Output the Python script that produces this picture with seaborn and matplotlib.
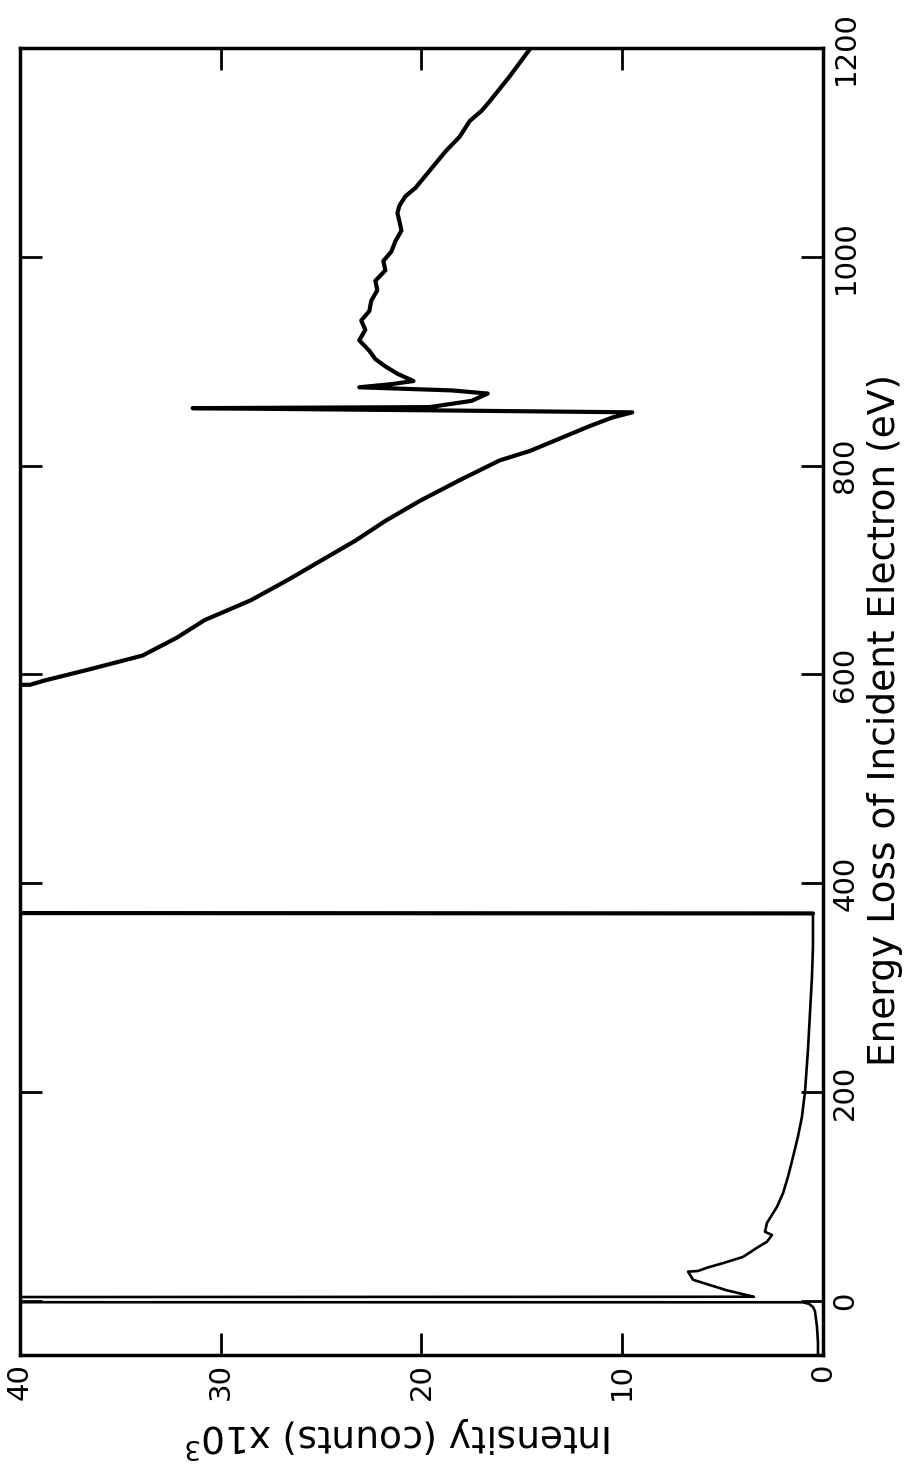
import numpy as np
import pandas as pd
import matplotlib
matplotlib.use("Agg")
import matplotlib.pyplot as plt
import seaborn as sns

# Energy loss (eV) and intensity (counts x10^3) in order of acquisition
energy_eV = [
    -52, -40, -25, -10, -6, -3, -1.5, -1, 1.5, 3.8,
    10, 18, 20, 24, 27.8, 28.5, 31.6, 36, 42, 50.7,
    56.5, 63, 66, 74.6, 90, 103, 119, 138, 157, 176,
    192, 199, 240, 275, 310, 339, 371, 371.5, 589, 590,
    594, 605, 618, 635, 652, 671, 690, 709, 728, 747,
    766, 786, 805, 814, 826, 838, 846, 851, 853, 855,
    856, 862, 869, 872, 875, 878, 881, 888, 895, 902,
    910, 920, 930, 939, 948, 958, 968, 977, 987, 996,
    1005, 1015, 1025, 1034, 1042, 1049, 1058, 1066, 1073, 1087,
    1101, 1115, 1130, 1140, 1149, 1161, 1173, 1186, 1199,
]
intensity = [
    0.25, 0.25, 0.3, 0.4, 0.5, 0.7, 1.0, 300, 300, 3.44,
    4.8, 6.13, 6.47, 6.6, 6.72, 6.22, 5.78, 4.98, 3.98, 3.29,
    2.79, 2.54, 2.89, 2.79, 2.29, 1.99, 1.74, 1.49, 1.25, 1.05,
    0.95, 0.90, 0.75, 0.65, 0.55, 0.50, 0.50, 60, 60, 39.5,
    38.8, 36.5, 33.9, 32.2, 30.8, 28.5, 26.7, 25.0, 23.3, 21.8,
    20.1, 18.1, 16.1, 14.6, 13.1, 11.6, 10.5, 9.5, 20.0, 31.4,
    19.6, 17.5, 16.7, 18.5, 23.1, 21.5, 20.4, 21.2, 21.8, 22.3,
    22.6, 23.1, 22.8, 23.0, 22.6, 22.5, 22.2, 22.3, 21.8, 21.9,
    21.5, 21.3, 21.0, 21.1, 21.2, 21.1, 20.8, 20.3, 20.0, 19.4,
    18.8, 18.1, 17.6, 17.0, 16.6, 16.1, 15.6, 15.1, 14.6,
]

intensity_ticks = [40, 30, 20, 10, 0]
energy_ticks = [0, 200, 400, 600, 800, 1000, 1200]

df = pd.DataFrame({"energy": energy_eV, "intensity": intensity})
low = df[df["energy"] <= 371.5]
high = df[df["energy"] >= 371]

sns.set_theme(style="white")
plt.rcParams["font.family"] = ["DejaVu Sans"]

fig = plt.figure(figsize=(9.22, 14.77), dpi=100)
ax = fig.add_axes([20 / 922, 1 - 1355 / 1477, (823 - 20) / 922, (1355 - 48) / 1477])

sns.lineplot(data=low, x="intensity", y="energy", sort=False, estimator=None,
             color="black", linewidth=1.9, ax=ax)
sns.lineplot(data=high, x="intensity", y="energy", sort=False, estimator=None,
             color="black", linewidth=3.0, ax=ax)

ax.set_xlim(40, 0)
ax.set_ylim(-52, 1200)
ax.set_xticks(intensity_ticks)
ax.set_yticks(energy_ticks)
ax.set_xticklabels([str(t) for t in intensity_ticks], rotation=90, fontsize=21)
ax.set_yticklabels([str(t) for t in energy_ticks], rotation=90, fontsize=21, va="center")

ax.yaxis.tick_right()
ax.yaxis.set_label_position("right")
ax.tick_params(axis="both", which="both", direction="in", length=16, width=2,
               top=True, bottom=True, left=True, right=True,
               labelleft=False, labelright=True, labeltop=False, labelbottom=True,
               pad=6, colors="black")

for sp in ax.spines.values():
    sp.set_visible(True)
    sp.set_color("black")
    sp.set_linewidth(2.5)

ax.set_xlabel("Intensity (counts) x10$^3$", rotation=180, fontsize=27, color="black")
ax.set_ylabel("Energy Loss of Incident Electron (eV)", rotation=90, fontsize=27, color="black")
ax.xaxis.label.set(rotation_mode="default", va="center", ha="center")
ax.yaxis.label.set(rotation_mode="default", va="center", ha="center")
ax.xaxis.set_label_coords(0.472, -0.0627)
ax.yaxis.set_label_coords(1.077, 0.486)
ax.grid(False)

fig.savefig("out.png", dpi=100, facecolor="white")
